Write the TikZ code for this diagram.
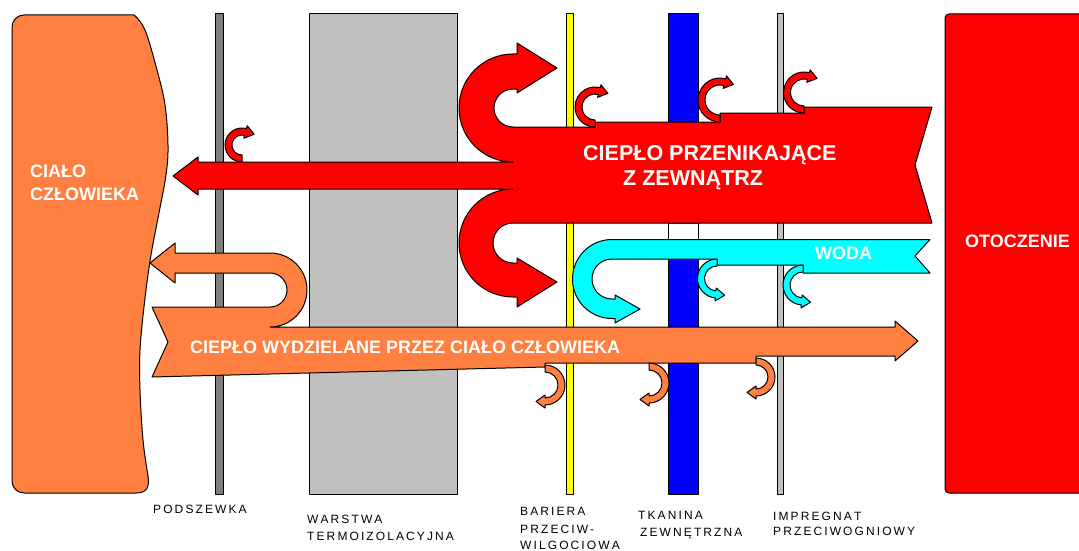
\documentclass[tikz,border=0pt]{standalone}
\usepackage{fontspec}
\setmainfont{Liberation Sans}
\definecolor{bodyorange}{RGB}{255,128,64}
\definecolor{cyanc}{RGB}{0,255,255}
\definecolor{barblue}{RGB}{0,0,255}
\definecolor{bargray}{RGB}{128,128,128}
\definecolor{lgray}{RGB}{192,192,192}
\definecolor{redc}{RGB}{255,0,0}
\definecolor{yellowc}{RGB}{255,255,0}
\makeatletter
\def\lsp#1{\lsp@#1\relax}
\def\lsp@#1{\ifx#1\relax\else#1\kern2.1pt\expandafter\lsp@\fi}
\makeatother
\tikzset{
  outl/.style={draw=black, line width=1pt, line join=round},
  bigtxt/.style={text=white, font=\bfseries\fontsize{21.5}{21.5}\selectfont, inner sep=0pt, anchor=base west},
  midtxt/.style={text=white, font=\bfseries\fontsize{18}{18}\selectfont, inner sep=0pt, anchor=base west},
  lbl/.style={font=\fontsize{12}{12}\selectfont, inner sep=0pt, anchor=base west},
}
% #1 colour, #2 cx, #3 cy, #4 mid radius, #5 half thickness, #6 start angle, #7 end angle, #8 head half width, #9 signed head length
\newcommand\hcurl[9]{%
  \path[outl, fill=#1]
    ([shift={(#2,#3)}]{#6}:{#4+#5})
    arc[start angle=#6, end angle=#7, radius=#4+#5]
    -- ([shift={(#2,#3)}]{#7}:{#4+#8})
    -- ([shift={(#2,#3)}, shift={({#7}:{#4})}]{#7+90}:{#9})
    -- ([shift={(#2,#3)}]{#7}:{#4-#8})
    -- ([shift={(#2,#3)}]{#7}:{#4-#5})
    arc[start angle=#7, end angle=#6, radius=#4-#5]
    -- cycle;}
\begin{document}
\begin{tikzpicture}[x=1pt,y=-1pt]
\useasboundingbox (0,0) rectangle (1079,551);
\clip (0,0) rectangle (1079,551);
\fill[white] (0,0) rectangle (1079,551);
% layers
\path[outl, fill=bargray] (215,14) rectangle (223,494);
\path[outl, fill=lgray] (309,14) rectangle (457,494);
\path[outl, fill=yellowc] (566,14) rectangle (573,494);
\path[outl, fill=barblue] (668,14) rectangle (698,494);
\path[outl, fill=lgray] (777,14) rectangle (783,494);
% body
\path[outl, fill=bodyorange] (24,15) -- plot[smooth, tension=0.6] coordinates {(134,15) (145,30) (157,70) (165,105) (168,145) (166,175) (158,218) (151,255) (145,298) (140,350) (140,390) (143,440) (148,476)} .. controls (150,488) and (146,493) .. (136,493) -- (24,493) arc[start angle=90, end angle=180, radius=12] -- (12,27) arc[start angle=180, end angle=270, radius=12] -- cycle;
% environment
\path[outl, fill=redc, rounded corners=4pt] (945,14) rectangle (1095,493);
% big red arrow
\path[outl, fill=redc] (173,176) -- (198,157) -- (198,162) -- (513,162)
  arc[start angle=90, end angle=270, radius=54]
  -- (517,54) -- (517,43) -- (557,68) -- (517,93) -- (517,89) -- (513,89)
  arc[start angle=270, end angle=90, radius=19]
  -- (595,127) -- (595,122) -- (720,122) -- (720,113) -- (804,113) -- (804,107) -- (932,107) -- (915,165) -- (932,223) -- (513,223)
  arc[start angle=270, end angle=90, radius=20]
  -- (517,263) -- (517,258) -- (557,282) -- (517,307) -- (517,297) -- (513,297)
  arc[start angle=90, end angle=270, radius=54]
  -- (198,189) -- (198,195) -- cycle;
\hcurl{redc}{242}{145}{13.5}{3.5}{90}{285}{6.5}{9}
\hcurl{redc}{595}{107}{16.5}{3.5}{90}{285}{6.5}{9}
\hcurl{redc}{720}{100}{18.5}{3.5}{90}{285}{6.5}{9}
\hcurl{redc}{804}{92.5}{17}{3.5}{90}{285}{6.5}{9}
% gap in blue layer
\fill[white] (668.5,223.5) rectangle (697.5,239);
% water
\path[outl, fill=cyanc] (612,239.5) -- (930,239.5) -- (915,256) -- (930,273) -- (803,273) -- (803,265) -- (717,265) -- (717,259) -- (612,259)
  arc[start angle=270, end angle=90, radius=20]
  -- (615,299) -- (615,295) -- (640,309) -- (615,323) -- (615,318.5) -- (612,318.5)
  arc[start angle=90, end angle=270, radius=39.5] -- cycle;
\hcurl{cyanc}{717}{278.5}{16}{3.5}{270}{95}{6.5}{-9}
\hcurl{cyanc}{803}{285}{16.5}{3.5}{270}{95}{6.5}{-9}
% body heat
\path[outl, fill=bodyorange] (152,307) -- (270,307)
  arc[start angle=90, end angle=-90, radius=17]
  -- (175,273) -- (175,283) -- (150,263) -- (175,243) -- (175,253) -- (270,253)
  arc[start angle=-90, end angle=90, radius=37]
  -- (895,327) -- (895,321) -- (918,341) -- (895,361) -- (895,356) -- (756,356) -- (756,363) -- (545,363) -- (545,367) -- (152,377) -- (168,342) -- cycle;
\hcurl{bodyorange}{545}{385}{16.5}{3.5}{270}{450}{6.5}{9}
\hcurl{bodyorange}{649}{383}{16.5}{3.5}{270}{450}{6.5}{9}
\hcurl{bodyorange}{756}{377}{15.5}{3.5}{270}{450}{6.5}{9}
% texts
\node[midtxt] (cialo) at (30,177.4) {CIAŁO};
\node[midtxt] (czlowieka) at (30,200.4) {CZŁOWIEKA};
\node[midtxt] (otoczenie) at (965,247.3) {OTOCZENIE};
\node[bigtxt] (cp1) at (583,160.5) {CIEPŁO PRZENIKAJĄCE};
\node[bigtxt] (cp2) at (623,185.5) {Z ZEWNĄTRZ};
\node[midtxt] (woda) at (815,259.4) {WODA};
\node[midtxt] (cw) at (190,353.4) {CIEPŁO WYDZIELANE PRZEZ CIAŁO CZŁOWIEKA};
% labels
\node[lbl] (l1) at (153,513.3) {\lsp{PODSZEWKA}};
\node[lbl] (l2a) at (307,523.3) {\lsp{WARSTWA}};
\node[lbl] (l2b) at (307,540.3) {\lsp{TERMOIZOLACYJNA}};
\node[lbl] (l3a) at (520,515.5) {\lsp{BARIERA}};
\node[lbl] (l3b) at (520,533) {\lsp{PRZECIW-}};
\node[lbl] (l3c) at (520,549.5) {\lsp{WILGOCIOWA}};
\node[lbl] (l4a) at (638,519.8) {\lsp{TKANINA}};
\node[lbl] (l4b) at (640,536.3) {\lsp{ZEWNĘTRZNA}};
\node[lbl] (l5a) at (773,520.3) {\lsp{IMPREGNAT}};
\node[lbl] (l5b) at (773,535.3) {\lsp{PRZECIWOGNIOWY}};
\end{tikzpicture}
\end{document}
